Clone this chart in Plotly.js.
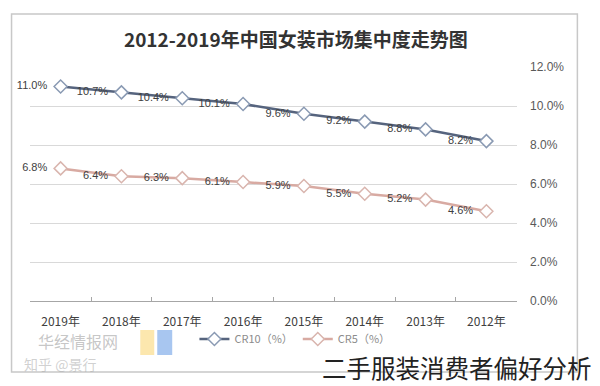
<!DOCTYPE html>
<html>
<head>
<meta charset="utf-8">
<script src="https://cdn.plot.ly/plotly-3.0.1.min.js"></script>
<style>html,body{margin:0;padding:0;background:#fff;}#chart{width:600px;height:386px;}</style>
</head>
<body>
<div id="chart"></div>
<script>
const years = ['2012年','2013年','2014年','2015年','2016年','2017年','2018年','2019年'];
const cr10 = [8.2, 8.8, 9.2, 9.6, 10.1, 10.4, 10.7, 11.0];
const cr5 = [4.6, 5.2, 5.5, 5.9, 6.1, 6.3, 6.4, 6.8];
const yTicks = [0, 2, 4, 6, 8, 10, 12];

const labelFont = {family: 'Liberation Sans, Arial, sans-serif', size: 11, color: '#404040'};
const pad = '\u00a0\u00a0';

const traces = [
  {
    x: years, y: cr10, name: 'CR10（%）', type: 'scatter', mode: 'lines+markers+text',
    line: {color: '#56647e', width: 2.5},
    marker: {symbol: 'diamond', size: 10, color: '#ffffff', line: {color: '#8a9ab3', width: 1.5}},
    text: cr10.map(v => v.toFixed(1) + '%' + pad), textposition: 'middle left', textfont: labelFont,
    cliponaxis: false
  },
  {
    x: years, y: cr5, name: 'CR5（%）', type: 'scatter', mode: 'lines+markers+text',
    line: {color: '#d8aaa2', width: 2.5},
    marker: {symbol: 'diamond', size: 10, color: '#ffffff', line: {color: '#d9b5ae', width: 1.5}},
    text: cr5.map(v => v.toFixed(1) + '%' + pad), textposition: 'middle left', textfont: labelFont,
    cliponaxis: false
  }
];

const layout = {
  width: 600, height: 386,
  margin: {l: 29.5, r: 82.5, t: 67, b: 85},
  paper_bgcolor: '#ffffff', plot_bgcolor: '#ffffff',
  title: {text: '2012-2019年中国女装市场集中度走势图', x: 0.493, xanchor: 'center', y: 0.896, yanchor: 'middle',
          font: {family: 'Noto Sans CJK SC, sans-serif', size: 19, color: '#333333', weight: 'bold'}},
  xaxis: {
    type: 'category', autorange: 'reversed', showgrid: false,
    showline: true, linecolor: '#a6a6a6', linewidth: 1,
    ticks: 'inside', ticklen: 4, tickcolor: '#a6a6a6', tickson: 'boundaries', tickangle: 0,
    tickfont: {family: 'Noto Sans CJK SC, sans-serif', size: 12, color: '#404040'},
    ticklabelstandoff: 10, zeroline: false, fixedrange: true
  },
  yaxis: {
    side: 'right', range: [0, 12], tickvals: yTicks, ticktext: yTicks.map(v => v.toFixed(1) + '%'),
    showgrid: true, gridcolor: '#d9d9d9', gridwidth: 1, zeroline: false, showline: false,
    tickfont: {family: 'Liberation Sans, Arial, sans-serif', size: 12, color: '#595959'},
    ticklabelstandoff: 12, fixedrange: true
  },
  legend: {orientation: 'h', x: 0.544, xanchor: 'center', y: (301-339)/234, yanchor: 'middle',
           font: {family: 'Noto Sans CJK SC, sans-serif', size: 11, color: '#8c8c8c'}, bgcolor: 'rgba(0,0,0,0)'},
  shapes: [
    {type: 'rect', xref: 'paper', yref: 'paper', x0: -0.0379, x1: 1.124, y0: -0.303, y1: 1.2265,
     line: {color: '#c8c8c8', width: 1.5}, fillcolor: 'rgba(0,0,0,0)', layer: 'below'},
    {type: 'rect', xref: 'paper', yref: 'paper', x0: (140-29.5)/488, x1: (154-29.5)/488, y0: (301-355)/234, y1: (301-330)/234,
     line: {width: 0}, fillcolor: 'rgba(250,215,120,0.6)'},
    {type: 'rect', xref: 'paper', yref: 'paper', x0: (157-29.5)/488, x1: (172-29.5)/488, y0: (301-355)/234, y1: (301-330)/234,
     line: {width: 0}, fillcolor: 'rgba(110,160,230,0.6)'}
  ],
  annotations: [
    {text: '二手服装消费者偏好分析', xref: 'paper', yref: 'paper', x: (457-29.5)/488, y: (301-367)/234,
     xanchor: 'center', yanchor: 'middle', showarrow: false,
     font: {family: 'Noto Sans CJK SC, sans-serif', size: 24.5, color: '#222222'}},
    {text: '华经情报网', xref: 'paper', yref: 'paper', x: (78-29.5)/488, y: (301-341)/234,
     xanchor: 'center', yanchor: 'middle', showarrow: false,
     font: {family: 'Noto Sans CJK SC, sans-serif', size: 16, color: 'rgba(150,150,150,0.55)'}},
    {text: '知乎 @景行', xref: 'paper', yref: 'paper', x: (60-29.5)/488, y: (301-364)/234,
     xanchor: 'center', yanchor: 'middle', showarrow: false,
     font: {family: 'Noto Sans CJK SC, sans-serif', size: 14, color: 'rgba(170,170,170,0.55)'}}
  ]
};

Plotly.newPlot('chart', traces, layout, {displayModeBar: false, staticPlot: true});
</script>
</body>
</html>
